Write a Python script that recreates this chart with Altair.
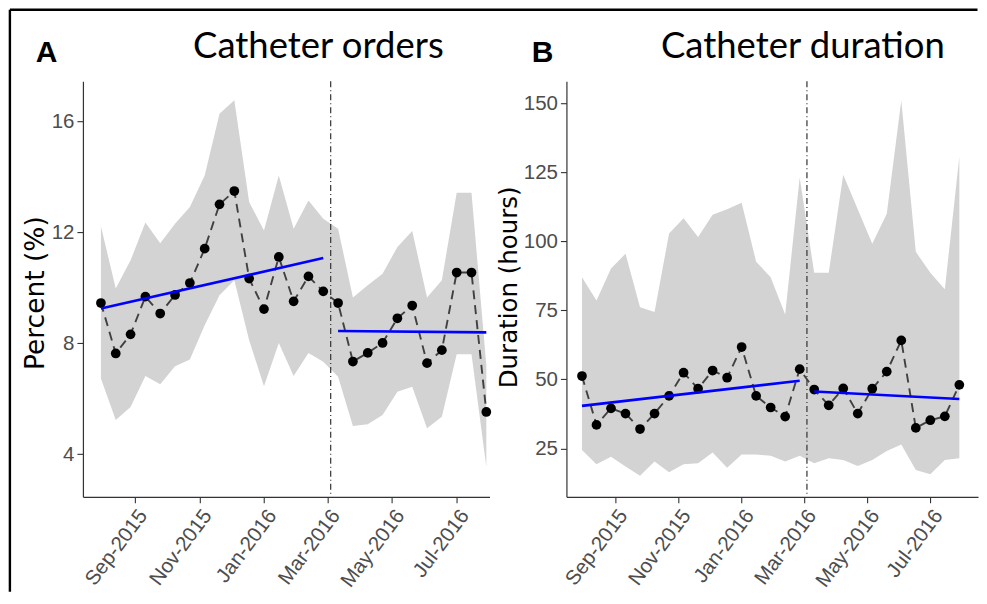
import altair as alt
import pandas as pd

# ---------------- data ----------------
dates = ["2015-07-31", "2015-08-14", "2015-08-28", "2015-09-11", "2015-09-25",
         "2015-10-09", "2015-10-23", "2015-11-06", "2015-11-20", "2015-12-04",
         "2015-12-18", "2016-01-01", "2016-01-15", "2016-01-29", "2016-02-12",
         "2016-02-26", "2016-03-11", "2016-03-25", "2016-04-08", "2016-04-22",
         "2016-05-06", "2016-05-20", "2016-06-03", "2016-06-17", "2016-07-01",
         "2016-07-15", "2016-07-29"]
period = ["pre"] * 16 + ["post"] * 11

orders_pct = [9.45, 7.63, 8.32, 9.68, 9.07, 9.74, 10.17, 11.41, 13.01, 13.49,
              10.33, 9.23, 11.11, 9.51, 10.41, 9.87, 9.45, 7.34, 7.65, 8.01,
              8.90, 9.36, 7.28, 7.75, 10.55, 10.55, 5.52]
orders_lo = [6.73, 5.23, 5.70, 6.82, 6.52, 7.17, 7.41, 8.65, 9.73, 10.27,
             8.11, 6.45, 8.01, 6.82, 7.65, 7.33, 6.79, 5.01, 5.08, 5.41,
             6.25, 6.43, 4.93, 5.35, 7.60, 7.60, 3.54]
orders_hi = [12.22, 9.97, 10.99, 12.35, 11.61, 12.31, 12.91, 14.05, 16.28, 16.76,
             13.09, 12.07, 14.05, 12.13, 13.15, 12.49, 12.13, 9.65, 10.09, 10.51,
             11.47, 12.05, 9.65, 10.27, 13.43, 13.43, 7.20]

dur_hours = [51.2, 33.5, 39.5, 37.6, 32.0, 37.6, 44.0, 52.4, 46.6, 53.2,
             50.6, 61.7, 44.0, 39.8, 36.5, 53.7, 46.3, 40.6, 46.7, 37.6,
             46.6, 52.8, 64.1, 32.4, 35.2, 36.6, 48.0]
dur_lo = [24.4, 19.2, 22.0, 18.4, 15.1, 20.2, 16.3, 19.2, 19.6, 23.5,
          18.0, 22.8, 22.8, 22.3, 20.2, 22.3, 19.6, 21.4, 20.8, 18.6,
          20.8, 24.0, 26.4, 17.2, 15.6, 20.8, 21.4]
dur_hi = [87.0, 78.6, 90.2, 95.5, 76.1, 74.4, 102.8, 108.4, 101.6, 109.6,
          111.6, 114.0, 92.6, 87.0, 73.5, 123.1, 88.6, 88.6, 124.1, 111.6,
          99.1, 110.0, 151.0, 96.2, 88.6, 82.6, 130.6]

# fitted segmented-regression lines (start / end of each period)
trend_dates = ["2015-07-31", "2016-02-26", "2016-03-11", "2016-07-29"]
trend_period = ["pre", "pre", "post", "post"]
orders_trend = [9.25, 11.07, 8.44, 8.39]
dur_trend = [40.4, 49.5, 45.6, 42.9]

intervention = ["2016-03-04"]

tick_dates = [(2015, 9), (2015, 11), (2016, 1), (2016, 3), (2016, 5), (2016, 7)]

LABEL_FONT = "Liberation Sans"
TITLE_FONT = "DejaVu Sans"


def dt(s):
    y, m, d = [int(p) for p in s.split("-")]
    return alt.DateTime(year=y, month=m, date=d, utc=True)


def panel(vals, lo, hi, trend, width, height, xdom, ydom, yticks, ytitle,
          title_text, title_x, letter, letter_x, ytitle_x, ytitle_y, ytitle_size,
          border=False):
    df = pd.DataFrame({"date": dates, "period": period, "v": vals, "lo": lo, "hi": hi})
    tdf = pd.DataFrame({"date": trend_dates, "period": trend_period, "v": trend})
    idf = pd.DataFrame({"date": intervention})

    xscale = alt.Scale(type="utc", domain=[dt(xdom[0]), dt(xdom[1])], nice=False)
    yscale = alt.Scale(domain=ydom, nice=False, zero=False)
    xaxis = alt.Axis(values=[alt.DateTime(year=y, month=m, date=1, utc=True) for y, m in tick_dates],
                     labelExpr="utcFormat(datum.value, '%b-%Y')", labelAngle=-53,
                     labelOverlap=False, labelFont=LABEL_FONT, labelFontSize=20.5,
                     labelAlign="right", labelBaseline="top",
                     title=None, tickSize=6, labelPadding=3)
    yaxis = alt.Axis(values=yticks, title=ytitle, tickSize=6, labelPadding=3,
                     labelFont=LABEL_FONT, labelFontSize=20.5, labelOverlap=False,
                     titleFont=TITLE_FONT, titleFontWeight="normal",
                     titleX=ytitle_x, titleY=ytitle_y, titleAlign="center",
                     titleBaseline="alphabetic", titleFontSize=ytitle_size)
    X = alt.X("date:T", scale=xscale, axis=xaxis)

    band = alt.Chart(df).mark_area(color="#D3D3D3", opacity=1).encode(
        x=X,
        y=alt.Y("hi:Q", scale=yscale, axis=yaxis),
        y2="lo:Q",
    )
    vline = alt.Chart(idf).mark_rule(color="#333333", strokeWidth=1.2,
                                     strokeDash=[6, 3, 1, 3]).encode(x=X)
    line = alt.Chart(df).mark_line(color="#404040", strokeWidth=1.9,
                                   strokeDash=[9, 6]).encode(
        x=X,
        y=alt.Y("v:Q", scale=yscale, axis=yaxis),
    )
    pts = alt.Chart(df).mark_point(filled=True, shape="circle", size=95,
                                   color="black", opacity=1).encode(
        x=X,
        y=alt.Y("v:Q", scale=yscale, axis=yaxis),
    )
    tr = alt.Chart(tdf).mark_line(color="#0000FF", strokeWidth=2.6).encode(
        x=X,
        y=alt.Y("v:Q", scale=yscale, axis=yaxis),
        detail="period:N",
    )
    ttl = alt.Chart(pd.DataFrame({"t": [title_text]})).mark_text(
        font="Lato", fontSize=36.5, align="center", baseline="alphabetic", color="black"
    ).encode(text="t:N", x=alt.value(title_x), y=alt.value(-23.7))
    let = alt.Chart(pd.DataFrame({"t": [letter]})).mark_text(
        font="Liberation Sans", fontSize=30, fontWeight="bold", align="left",
        baseline="alphabetic", color="black"
    ).encode(text="t:N", x=alt.value(letter_x), y=alt.value(-19.7))

    layers = [band, vline, line, pts, tr, ttl, let]
    if border:
        bdf = pd.DataFrame({"k": [0]})
        left = alt.Chart(bdf).mark_rule(color="black", strokeWidth=2.4).encode(
            x=alt.value(-73.1), y=alt.value(-71.5), y2=alt.value(511))
        top = alt.Chart(bdf).mark_rule(color="black", strokeWidth=2.4).encode(
            x=alt.value(-73.1), x2=alt.value(895.5), y=alt.value(-71.5))
        layers += [left, top]
    return alt.layer(*layers).properties(width=width, height=height)


pA = panel(orders_pct, orders_lo, orders_hi, orders_trend, 407, 416,
           ["2015-07-14", "2016-08-01"], [2.46, 17.45], [4, 8, 12, 16], "Percent (%)",
           "Catheter orders", 235.7, "A", -47.3, -39.3, 211.6, 26.5, border=True)
pB = panel(dur_hours, dur_lo, dur_hi, dur_trend, 412, 416,
           ["2015-07-16", "2016-08-16"], [7.45, 158], [25, 50, 75, 100, 125, 150],
           "Duration (hours)", "Catheter duration", 236.7, "B", -34.7, -50, 205.8, 24.5)

chart = alt.hconcat(pA, pB, spacing=77, bounds="flush").properties(
    padding=0, background="white"
).configure_view(stroke=None).configure_axis(
    grid=False, domainColor="#333333", domainWidth=1.2, tickColor="#333333",
    tickWidth=1.1, labelColor="#4D4D4D", titleColor="black"
)

chart.save("out.html", embed_options={"renderer": "svg", "actions": False})
